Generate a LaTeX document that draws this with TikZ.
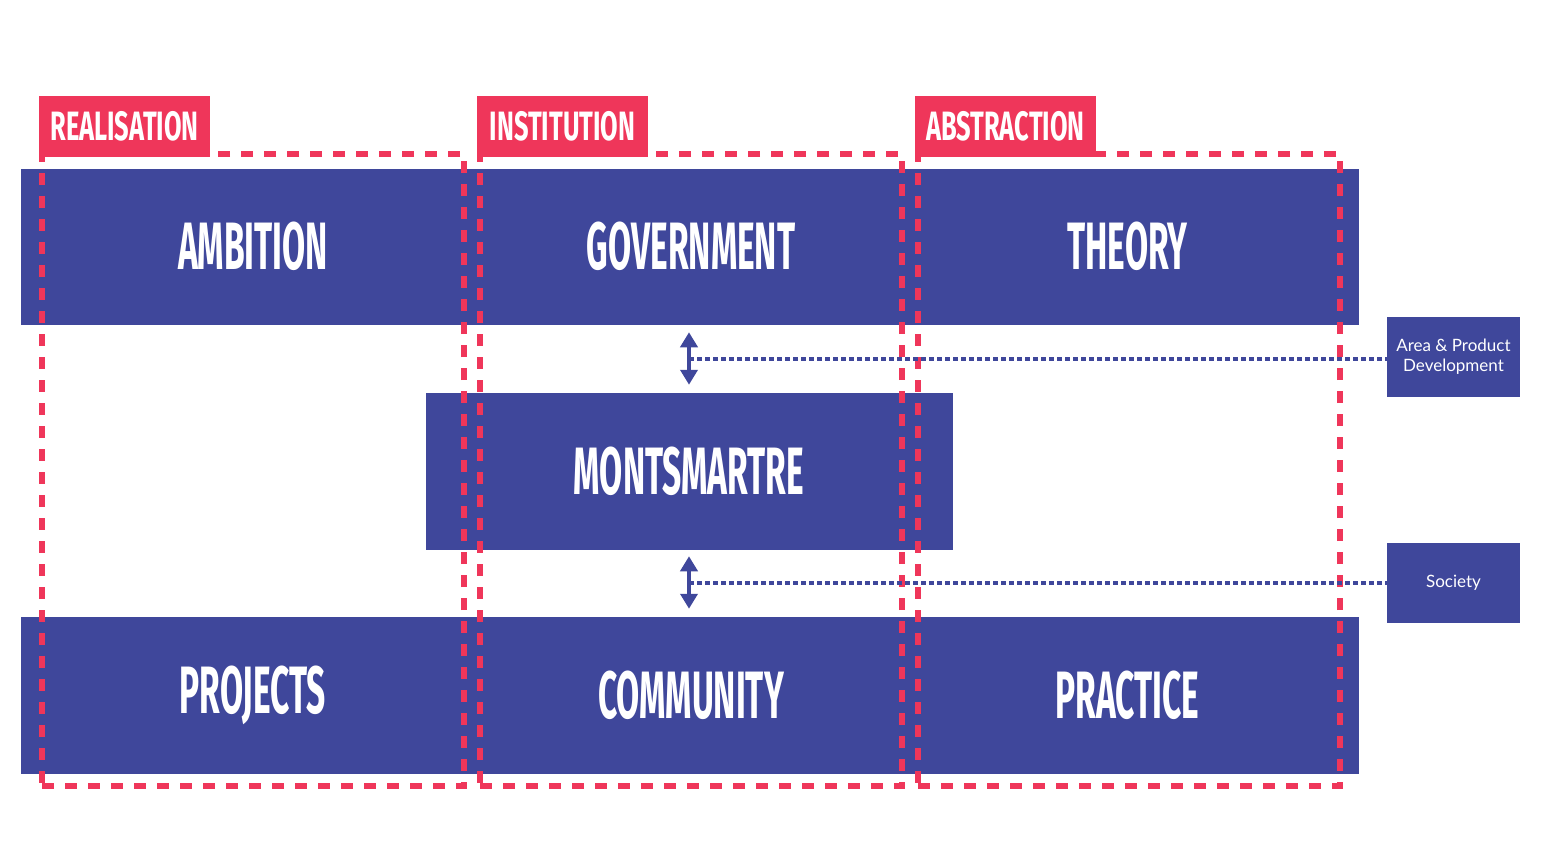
\documentclass[tikz,border=0pt]{standalone}
\usepackage{fontspec}
\usetikzlibrary{positioning,arrows.meta,calc}
\newfontfamily\bigfont[FakeStretch=0.5]{Fira Sans}
\newfontfamily\tagfont[FakeStretch=0.62]{Fira Sans}
\newfontfamily\smallfont{Lato}
\definecolor{mblue}{RGB}{63,71,155}
\definecolor{mred}{RGB}{239,54,90}
\tikzstyle{block}=[fill=mblue,draw=mblue,line width=0.5pt,text=white,inner sep=0pt,font=\bigfont\bfseries\fontsize{67}{67}\selectfont]
\tikzstyle{frame}=[draw=mred,line width=6pt,dash pattern=on 12pt off 11pt,minimum width=422pt,minimum height=632pt,inner sep=0pt]
\tikzstyle{tag}=[fill=mred,text=white,minimum height=61pt,inner sep=0pt,font=\tagfont\bfseries\fontsize{41}{41}\selectfont]
\tikzstyle{side}=[fill=mblue,text=white,minimum width=133pt,minimum height=80pt,inner sep=0pt,align=center,font=\smallfont\fontsize{17}{20}\selectfont]
\tikzstyle{twoway}=[draw=mblue,line width=4pt,{Triangle[width=17pt,length=15pt]}-{Triangle[width=17pt,length=15pt]}]
\tikzstyle{dots}=[draw=mblue,line width=4pt,dash pattern=on 5pt off 3pt]

\begin{document}
\begin{tikzpicture}[x=1pt,y=-1pt]
  \useasboundingbox (0,0) rectangle (1550,850);

  \foreach \pos / \len / \hgt / \name / \txt in
      {{(253,246.5)/464/155/amb/AMBITION}, {(691,246.5)/412/155/gov/GOVERNMENT},
       {(1127.5,246.5)/461/155/theo/THEORY}, {(689,471)/526/156/mont/MONTSMARTRE},
       {(253,695)/464/156/proj/PROJECTS}, {(691,695)/412/156/com/COMMUNITY},
       {(1127.5,695)/461/156/prac/PRACTICE}}
    \node[block,minimum width=\len pt,minimum height=\hgt pt] (\name) at \pos {\txt};

  % dashed columns with their tags
  \foreach \pos / \name in {{(253,470)/real}, {(691,470)/inst}, {(1129,470)/abst}}
    \node[frame] (\name) at \pos {};

  \foreach \pos / \len / \name / \txt in {{(124.5,126.5)/171/realtag/REALISATION},
                                         {(562.5,126.5)/171/insttag/INSTITUTION},
                                         {(1005.5,126.5)/181/absttag/ABSTRACTION}}
    \node[tag,minimum width=\len pt] (\name) at \pos {\txt};

  \node[side] (area) at (1453.5,357) {Area \& Product\\Development};
  \node[side] (soc) at (1453.5,583) {Society};

  % links to the side boxes
  \draw[twoway,shorten <=8pt,shorten >=8pt] (mont.north |- gov.south) -- (mont.north);
  \draw[twoway,shorten <=7pt,shorten >=8pt] (mont.south) -- (mont.south |- com.north);
  \coordinate (upmid) at ($(mont.north |- gov.south)!0.5!(mont.north)$);
  \coordinate (lowmid) at ($(mont.south)!0.5!(mont.south |- com.north)$);
  \draw[dots] (upmid) -- (upmid -| area.west);
  \draw[dots] (lowmid) -- (lowmid -| soc.west);
\end{tikzpicture}
\end{document}
